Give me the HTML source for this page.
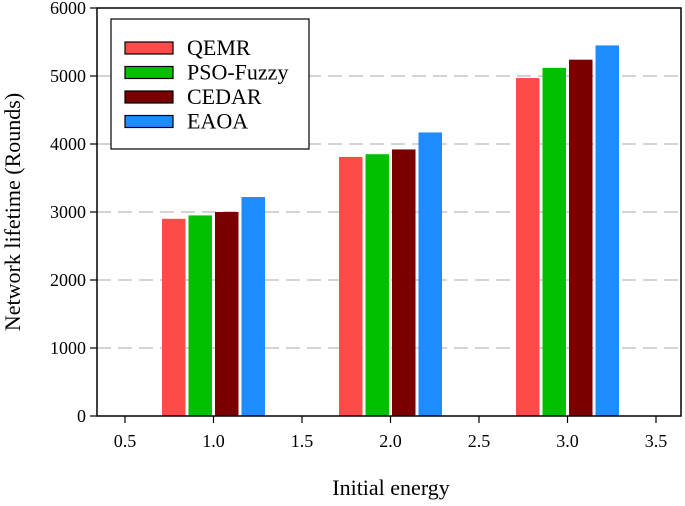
<!DOCTYPE html>
<html><head><meta charset="utf-8"><style>
body{margin:0;background:#fff}
svg text{font-family:"Liberation Serif",serif;fill:#000}
</style></head><body>
<svg width="685" height="501" xmlns="http://www.w3.org/2000/svg">
<g id="grid"></g><g id="bars"></g><g id="axes"></g>
<text x="391" y="495" font-size="22" text-anchor="middle">Initial energy</text>
<text transform="translate(20,212) rotate(-90)" font-size="22" text-anchor="middle">Network lifetime (Rounds)</text>
<g>
<rect x="111" y="19" width="198" height="130" fill="#fff" stroke="#000" stroke-width="1.2"/>
<g id="legend"></g>
</g>
</svg>
<script>
const categories=[1.0,2.0,3.0];
const seriesNames=["QEMR","PSO-Fuzzy","CEDAR","EAOA"];
const colors=["#ff4a4a","#00c000","#7a0000","#1e8cff"];
const qemr=[2900,3810,4970];
const psoFuzzy=[2950,3850,5120];
const cedar=[3000,3920,5240];
const eaoa=[3220,4170,5450];
const yTicks=[0,1000,2000,3000,4000,5000,6000];
const xTicks=[0.5,1.0,1.5,2.0,2.5,3.0,3.5];
const series=[qemr,psoFuzzy,cedar,eaoa];
const L=97,R=681,T=8,B=416;
const x=v=>125+(v-0.5)*177;
const y=v=>B-(v/6000)*(B-T);
const NS="http://www.w3.org/2000/svg";
function mk(tag,attrs,parent){const e=document.createElementNS(NS,tag);for(const k in attrs)e.setAttribute(k,attrs[k]);parent.appendChild(e);return e;}
const grid=document.getElementById('grid'),bars=document.getElementById('bars'),axes=document.getElementById('axes'),leg=document.getElementById('legend');
yTicks.forEach(t=>{
 if(t>0&&t<6000){const g=mk('line',{x1:L,x2:R,y1:y(t),y2:y(t),stroke:'#bbb','stroke-width':1.3,'stroke-dasharray':'14,7'},grid);
 
 }
 mk('line',{x1:L-7,x2:L,y1:y(t),y2:y(t),stroke:'#000','stroke-width':1.2},axes);
 const tx=mk('text',{x:L-11,y:y(t)+6,'font-size':18,'text-anchor':'end'},axes);tx.textContent=t;
 
 
});
xTicks.forEach(t=>{
 mk('line',{x1:x(t),x2:x(t),y1:B,y2:B+7,stroke:'#000','stroke-width':1.2},axes);
 const tx=mk('text',{x:x(t),y:B+31,'font-size':18,'text-anchor':'middle'},axes);tx.textContent=t.toFixed(1);
 
 
});
const bw=23.5,step=26.5;
categories.forEach((c,i)=>{
 series.forEach((s,j)=>{
  const cx=x(c)+(j-1.5)*step;
  const r=mk('rect',{x:cx-bw/2,y:y(s[i]),width:bw,height:B-y(s[i]),fill:colors[j]},bars);
  
  
 });
});
mk('rect',{x:L,y:T,width:R-L,height:B-T,fill:'none',stroke:'#000','stroke-width':1.5},axes);
seriesNames.forEach((n,j)=>{
 const yy=48+j*24.5;
 const sw=mk('rect',{x:125,y:yy-6,width:48,height:12,fill:colors[j],stroke:'#000','stroke-width':1.2},leg);
 
 
 const t=mk('text',{x:187,y:yy+7,'font-size':22},leg);t.textContent=n;
 
 
});
</script>
</body></html>
